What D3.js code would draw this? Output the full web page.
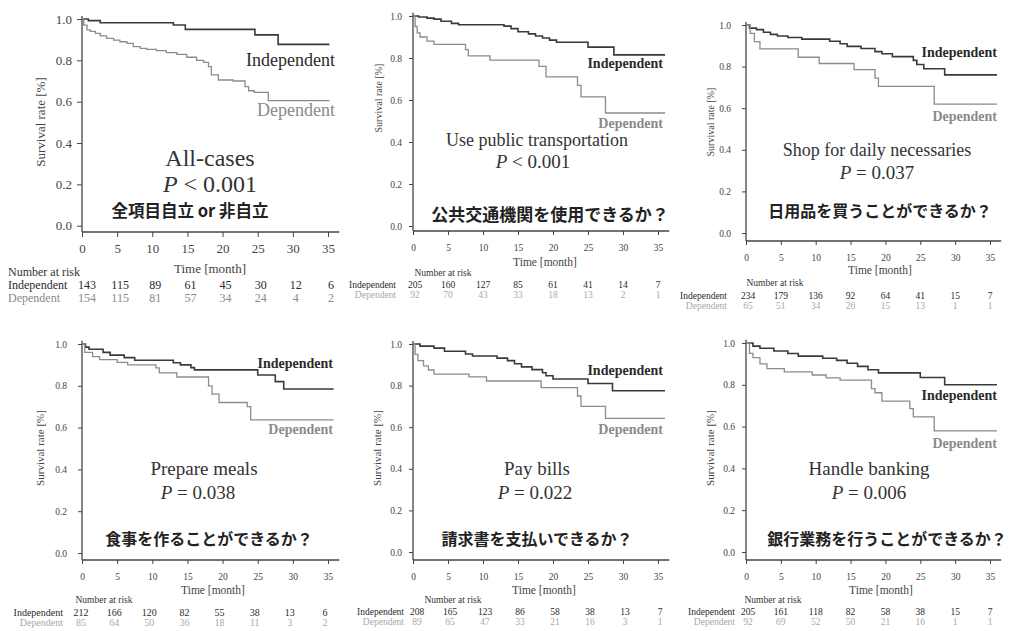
<!DOCTYPE html>
<html>
<head>
<meta charset="utf-8">
<script src="https://cdn.jsdelivr.net/npm/d3@7"></script>
<style>
  body { margin: 0; background: #fff; }
  svg { display: block; }
</style>
</head>
<body>
<svg id="chart" width="1009" height="631"></svg>
<script>
// ---- tick labels ----
const monthTicks = [0, 5, 10, 15, 20, 25, 30, 35];
const survivalTicks = [0, 0.2, 0.4, 0.6, 0.8, 1.0];
const groupNames = ["Independent", "Dependent"];

// ---- panel titles ----
const panelTitles = ["All-cases", "Use public transportation", "Shop for daily necessaries",
                     "Prepare meals", "Pay bills", "Handle banking"];
const pValues = ["< 0.001", "< 0.001", "= 0.037", "= 0.038", "= 0.022", "= 0.006"];
const panelQuestions = ["全項目自立 or 非自立", "公共交通機関を使用できるか？", "日用品を買うことができるか？",
                        "食事を作ることができるか？", "請求書を支払いできるか？", "銀行業務を行うことができるか？"];

// ---- Kaplan-Meier steps: [month, survival after the drop] ----
const allIndependent = [[0.9,0.992],[2.6,0.982],[13.0,0.971],[14.7,0.95],[24.6,0.923],[27.9,0.877]];
const allDependent = [[0.24,0.97],[0.71,0.947],[1.18,0.94],[1.9,0.93],[2.6,0.918],[3.5,0.906],[4.5,0.898],
  [5.4,0.89],[6.4,0.882],[7.3,0.866],[8.3,0.858],[9.2,0.853],[10.6,0.847],[12.0,0.837],[13.5,0.829],
  [14.9,0.815],[16.3,0.80],[17.3,0.79],[18.0,0.77],[18.4,0.73],[19.4,0.705],[21.5,0.70],[23.2,0.673],
  [23.7,0.653],[24.5,0.645],[26.5,0.605]];

const transIndependent = [[0.8,0.995],[2,0.99],[3,0.985],[4,0.975],[5.5,0.965],[6.5,0.958],[13,0.952],
  [14,0.94],[15,0.925],[16.5,0.915],[17.5,0.905],[18.5,0.895],[19.5,0.885],[20.5,0.875],[25,0.852],[28.7,0.815]];
const transDependent = [[0.3,0.95],[0.6,0.92],[1,0.9],[2,0.88],[3,0.865],[7.5,0.84],[7.9,0.81],[11,0.79],
  [18,0.76],[19,0.71],[23.5,0.67],[24,0.615],[27.5,0.538]];

const shopIndependent = [[0.5,0.985],[1.5,0.978],[2.5,0.965],[3.5,0.955],[4.5,0.947],[6,0.94],[8,0.932],
  [12,0.922],[13.5,0.91],[14.5,0.897],[16.5,0.887],[18.5,0.872],[19.5,0.862],[21,0.848],[24,0.83],
  [24.5,0.81],[25.5,0.79],[28.5,0.76]];
const shopDependent = [[0.6,0.96],[1.2,0.92],[2,0.885],[7.5,0.845],[10.5,0.815],[15.5,0.785],[18.5,0.745],
  [19,0.705],[27,0.62]];

const mealsIndependent = [[0.5,0.985],[1,0.975],[3,0.96],[4,0.947],[6,0.935],[7.5,0.922],[13,0.91],[14,0.9],
  [15.5,0.887],[16,0.876],[25,0.852],[27.5,0.82],[28.7,0.785]];
const mealsDependent = [[0.4,0.96],[1.5,0.94],[2.5,0.925],[5,0.912],[6.5,0.9],[10.5,0.886],[11,0.862],
  [13.5,0.842],[18,0.8],[18.5,0.76],[19.5,0.72],[23.5,0.7],[24,0.637]];

const billsIndependent = [[1,0.99],[3,0.98],[4.5,0.965],[7.5,0.952],[8.5,0.942],[12,0.932],[13.5,0.92],
  [14.5,0.905],[15.5,0.89],[17,0.877],[18.5,0.862],[19,0.847],[20,0.832],[25,0.81],[28.5,0.775]];
const billsDependent = [[0.3,0.95],[0.7,0.92],[1.5,0.895],[2.2,0.875],[3,0.855],[8,0.842],[10.5,0.822],
  [18.3,0.79],[23.5,0.75],[24,0.70],[27.5,0.642]];

const bankIndependent = [[1,0.985],[2,0.975],[4,0.962],[6,0.95],[7.5,0.937],[11,0.927],[13,0.917],
  [14.5,0.903],[16,0.888],[17.5,0.872],[19,0.857],[25,0.835],[28.5,0.80]];
const bankDependent = [[0.5,0.95],[1,0.93],[2,0.9],[3,0.877],[5.5,0.862],[9.5,0.847],[11.5,0.833],
  [13.5,0.822],[18,0.782],[18.5,0.762],[19.5,0.722],[23.5,0.686],[24,0.647],[27,0.58]];

// ---- numbers at risk at each month tick ----
const allRiskInd = [143,115,89,61,45,30,12,6];
const allRiskDep = [154,115,81,57,34,24,4,2];
const transRiskInd = [205,160,127,85,61,41,14,7];
const transRiskDep = [92,70,43,33,18,13,2,1];
const shopRiskInd = [234,179,136,92,64,41,15,7];
const shopRiskDep = [65,51,34,26,15,13,1,1];
const mealsRiskInd = [212,166,120,82,55,38,13,6];
const mealsRiskDep = [85,64,50,36,18,11,3,2];
const billsRiskInd = [208,165,123,86,58,38,13,7];
const billsRiskDep = [89,65,47,33,21,16,3,1];
const bankRiskInd = [205,161,118,82,58,38,15,7];
const bankRiskDep = [92,69,52,50,21,16,1,1];

const curves = [
  [allIndependent, allDependent], [transIndependent, transDependent], [shopIndependent, shopDependent],
  [mealsIndependent, mealsDependent], [billsIndependent, billsDependent], [bankIndependent, bankDependent]
];
const risks = [
  [allRiskInd, allRiskDep], [transRiskInd, transRiskDep], [shopRiskInd, shopRiskDep],
  [mealsRiskInd, mealsRiskDep], [billsRiskInd, billsRiskDep], [bankRiskInd, bankRiskDep]
];

// ---- panel geometry & typography ----
const big = {
  tick: 5, yPad: 5, xPad: 7, tickFont: 13, axisFont: 13, labelFont: 18, labelWeight: "normal",
  riskFont: 12, headFont: 12, pFont: 24, qFont: 16.5, depRiskColor: "#8a8a8a"
};
const small = {
  tick: 4, yPad: 7, xPad: 9, tickFont: 9.5, axisFont: 11.5, labelFont: 14, labelWeight: "bold",
  riskFont: 9.5, headFont: 9.5, pFont: 19, qFont: 16, depRiskColor: "#a8a8a8"
};
const layout = [
  Object.assign({}, big, { x0: 82, x35: 328, y1: 19, y0: 225.7, axisY: 232, end: 35.2,
    yLab: [40, 122, 13], xLab: [210, 268], labT: 36, indS: 0.80, depS: 0.56,
    title: [210, 158, 24], pLine: [210, 184], q: [190, 210],
    head: [8, 272, "start"], rowX: 8, rowAnchor: "start", rows: [285, 298], numDx: 3 }),
  Object.assign({}, small, { x0: 413, x35: 658, y1: 16, y0: 226, axisY: 231, end: 36, qFont: 17,
    yLab: [378, 98, 10], xLab: [545, 262], labT: 35.7, indS: 0.776, depS: 0.49,
    title: [537, 140, 18], pLine: [533, 161], q: [550, 213],
    head: [443, 273, "middle"], rowX: 396, rowAnchor: "end", rows: [285, 295], numDx: 0 }),
  Object.assign({}, small, { x0: 746, x35: 990, y1: 25, y0: 233, axisY: 241, end: 36, yPad: 11,
    yLab: [710, 122, 10], xLab: [880, 270], labT: 36, indS: 0.87, depS: 0.558,
    title: [877, 150, 18], pLine: [877, 172], q: [880, 210],
    head: [775, 283, "middle"], rowX: 727, rowAnchor: "end", rows: [296, 306], numDx: 0 }),
  Object.assign({}, small, { x0: 82, x35: 328, y1: 344, y0: 553, axisY: 560, end: 35.8, yPad: 11,
    riskFont: 10, yLab: [40, 448, 11], xLab: [213, 590], labT: 35.7, indS: 0.909, depS: 0.589,
    title: [204, 468, 19], pLine: [198, 492], q: [209, 538],
    head: [104, 600, "middle"], rowX: 63, rowAnchor: "end", rows: [612, 622], numDx: -3 }),
  Object.assign({}, small, { x0: 413, x35: 658, y1: 344, y0: 552, axisY: 560, end: 36,
    yLab: [377, 448, 11], xLab: [544, 590], labT: 35.7, indS: 0.875, depS: 0.587,
    title: [537, 468, 19], pLine: [535, 492], q: [537, 538],
    head: [453, 600, "middle"], rowX: 404, rowAnchor: "end", rows: [612, 622], numDx: 2 }),
  Object.assign({}, small, { x0: 746, x35: 990, y1: 343, y0: 552, axisY: 560, end: 36,
    yLab: [710, 448, 11], xLab: [881, 590], labT: 36, indS: 0.751, depS: 0.517,
    title: [869, 468, 19], pLine: [869, 492], q: [887, 538],
    head: [773, 600, "middle"], rowX: 735, rowAnchor: "end", rows: [612, 622], numDx: 0 })
];

const SERIF = "'Liberation Serif','Times New Roman',Times,serif";
const CJK = "'Noto Sans CJK JP','Noto Sans CJK SC',sans-serif";
const AXIS = "#444";
const LINE_COLORS = ["#3a3a3a", "#8c8c8c"];
const LINE_WIDTHS = [1.6, 1.3];
const LABEL_COLORS = ["#2a2a2a", "#8a8a8a"];

const svg = d3.select("#chart");
svg.append("rect").attr("width", 1009).attr("height", 631).attr("fill", "#fff");

layout.forEach((L, i) => {
  const x = d3.scaleLinear().domain([0, 35]).range([L.x0, L.x35]);
  const y = d3.scaleLinear().domain([0, 1]).range([L.y0, L.y1]);
  const g = svg.append("g").attr("class", "panel");

  // y axis
  const gy = g.append("g").attr("transform", `translate(${L.x0},0)`)
    .call(d3.axisLeft(y).tickValues(survivalTicks).tickFormat(d3.format(".1f"))
      .tickSize(L.tick).tickPadding(L.yPad));
  // x axis
  const gx = g.append("g").attr("transform", `translate(0,${L.axisY})`)
    .call(d3.axisBottom(x).tickValues(monthTicks).tickFormat(d3.format("d"))
      .tickSize(L.tick).tickPadding(L.xPad));
  [gy, gx].forEach(a => {
    a.select(".domain").remove();
    a.selectAll(".tick line").attr("stroke", AXIS).attr("stroke-width", 1);
    a.selectAll(".tick text").attr("fill", "#444")
      .style("font-family", SERIF).style("font-size", L.tickFont + "px");
  });
  g.append("line").attr("x1", L.x0).attr("x2", L.x0)
    .attr("y1", y(1.015)).attr("y2", L.axisY)
    .attr("stroke", AXIS).attr("stroke-width", 1.3);
  g.append("line").attr("x1", L.x0).attr("x2", x(36.6))
    .attr("y1", L.axisY).attr("y2", L.axisY)
    .attr("stroke", AXIS).attr("stroke-width", 1.3);

  // axis titles
  g.append("text")
    .attr("transform", `translate(${L.yLab[0]},${L.yLab[1]}) rotate(-90)`)
    .attr("text-anchor", "middle").attr("dominant-baseline", "central")
    .style("font-family", SERIF).style("font-size", L.yLab[2] + "px").attr("fill", "#444")
    .text("Survival rate [%]");
  g.append("text").attr("x", L.xLab[0]).attr("y", L.xLab[1])
    .attr("text-anchor", "middle").attr("dominant-baseline", "central")
    .style("font-family", SERIF).style("font-size", L.axisFont + "px").attr("fill", "#444")
    .text("Time [month]");

  // survival curves
  const line = d3.line().x(d => x(d[0])).y(d => y(d[1])).curve(d3.curveStepAfter);
  curves[i].forEach((steps, k) => {
    const pts = [[0, 1], ...steps, [L.end, steps[steps.length - 1][1]]];
    g.append("path").datum(pts).attr("d", line).attr("fill", "none")
      .attr("stroke", LINE_COLORS[k]).attr("stroke-width", LINE_WIDTHS[k]);
  });

  // group labels at the curve ends
  [L.indS, L.depS].forEach((s, k) => {
    g.append("text").attr("x", x(L.labT)).attr("y", y(s))
      .attr("text-anchor", "end").attr("dominant-baseline", "central")
      .style("font-family", SERIF).style("font-size", L.labelFont + "px")
      .style("font-weight", L.labelWeight).attr("fill", LABEL_COLORS[k])
      .text(groupNames[k]);
  });

  // panel title, p-value, question
  g.append("text").attr("x", L.title[0]).attr("y", L.title[1])
    .attr("text-anchor", "middle").attr("dominant-baseline", "central")
    .style("font-family", SERIF).style("font-size", L.title[2] + "px").attr("fill", "#333")
    .text(panelTitles[i]);
  const pt = g.append("text").attr("x", L.pLine[0]).attr("y", L.pLine[1])
    .attr("text-anchor", "middle").attr("dominant-baseline", "central")
    .style("font-family", SERIF).style("font-size", L.pFont + "px").attr("fill", "#333");
  pt.append("tspan").style("font-style", "italic").text("P");
  pt.append("tspan").text(" " + pValues[i]);
  g.append("text").attr("x", L.q[0]).attr("y", L.q[1])
    .attr("text-anchor", "middle").attr("dominant-baseline", "central")
    .style("font-family", CJK).style("font-size", L.qFont + "px").style("font-weight", "bold")
    .attr("fill", "#222").text(panelQuestions[i]);

  // number-at-risk table
  g.append("text").attr("x", L.head[0]).attr("y", L.head[1])
    .attr("text-anchor", L.head[2]).attr("dominant-baseline", "central")
    .style("font-family", SERIF).style("font-size", L.headFont + "px").attr("fill", "#333")
    .text("Number at risk");
  risks[i].forEach((row, k) => {
    const color = k === 0 ? "#2a2a2a" : L.depRiskColor;
    g.append("text").attr("x", L.rowX).attr("y", L.rows[k])
      .attr("text-anchor", L.rowAnchor).attr("dominant-baseline", "central")
      .style("font-family", SERIF).style("font-size", L.riskFont + "px").attr("fill", color)
      .text(groupNames[k]);
    g.selectAll(null).data(row).enter().append("text")
      .attr("x", (d, j) => x(monthTicks[j]) + L.numDx + (j === 0 ? 2 : 0)).attr("y", L.rows[k])
      .attr("text-anchor", "middle").attr("dominant-baseline", "central")
      .style("font-family", SERIF).style("font-size", L.riskFont + "px").attr("fill", color)
      .text(d => d);
  });
});
</script>
</body>
</html>
